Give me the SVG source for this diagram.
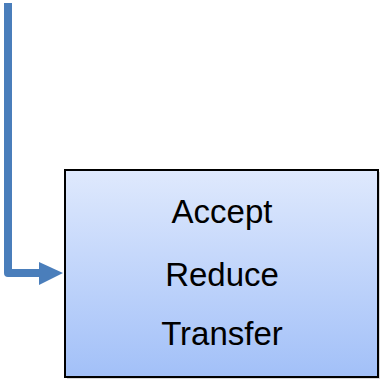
<svg xmlns="http://www.w3.org/2000/svg" width="380" height="379" viewBox="0 0 380 379">
<defs>
<linearGradient id="g" x1="0" y1="0" x2="0" y2="1">
<stop offset="0" stop-color="#dfe9fd"/>
<stop offset="1" stop-color="#a2c0f8"/>
</linearGradient>
<style>
.t{font-family:"Liberation Sans",Arial,sans-serif;font-size:33px;fill:#000;text-anchor:middle}
</style>
</defs>
<g id="connectors">
<path d="M8,3 V273 H42" fill="none" stroke="#4a7ebb" stroke-width="8" stroke-linejoin="round"/>
<polygon points="39,262 63,273 39,285" fill="#4a7ebb"/>
</g>
<g id="node">
<rect x="67" y="172" width="313" height="207" fill="#000" opacity="0.15"/>
<rect x="65" y="170" width="313" height="207" fill="url(#g)" stroke="#000" stroke-width="2"/>
<text class="t" x="222" y="223">Accept</text>
<text class="t" x="222" y="286">Reduce</text>
<text class="t" x="222" y="345">Transfer</text>
</g>
</svg>
